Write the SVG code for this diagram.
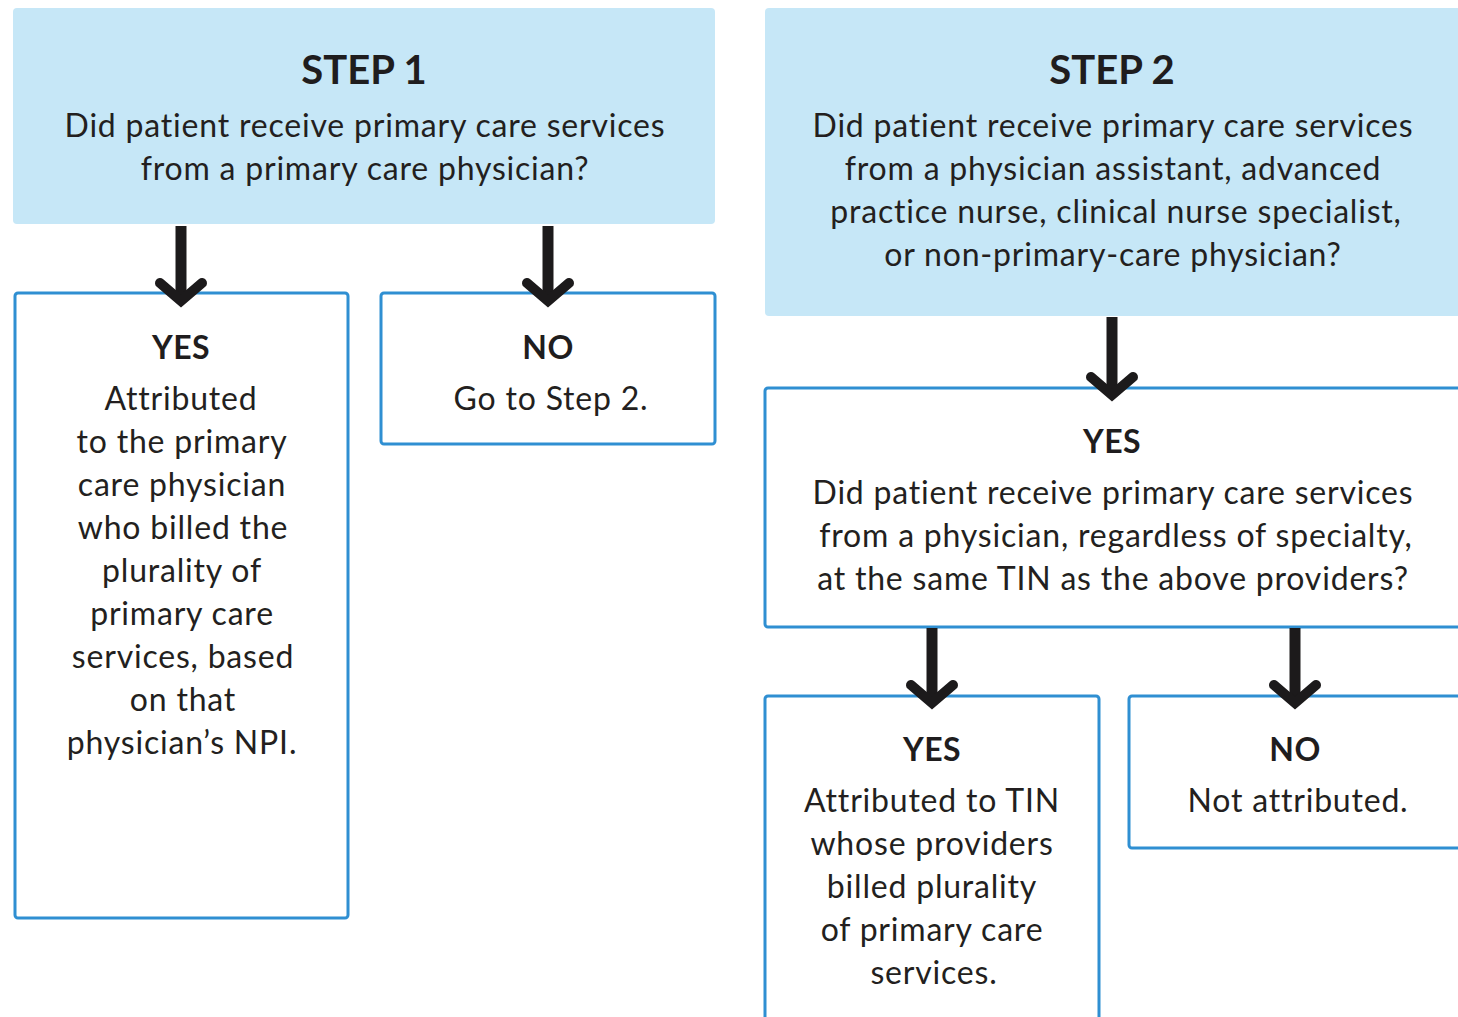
<svg xmlns="http://www.w3.org/2000/svg" width="1458" height="1017" viewBox="0 0 1458 1017">
  <style>
    .step { fill: #c6e7f7; }
    .box { fill: #ffffff; stroke: #2f8fd2; stroke-width: 3; }
    .title { font-family: Lato, "Open Sans", sans-serif; font-weight: 700; fill: #1f1d1e; text-anchor: middle; }
    .h1 { font-size: 40px; }
    .h2 { font-size: 32px; letter-spacing: 0.5px; }
    .body { font-family: Lato, "Open Sans", sans-serif; font-size: 32px; letter-spacing: 0.8px; fill: #231f20; text-anchor: middle; }
    .shaft { stroke: #1c1a1b; stroke-width: 11; fill: none; }
    .head { stroke: #1c1a1b; stroke-width: 10; fill: none; stroke-linejoin: miter; stroke-linecap: round; }
  </style>
  <rect width="1458" height="1017" fill="#ffffff"/>

  <g id="step1">
    <rect class="step" x="13" y="8" width="702" height="216" rx="4"/>
    <text class="title h1" x="364" y="84">STEP 1</text>
    <text class="body" x="365" y="137">Did patient receive primary care services</text>
    <text class="body" x="365" y="180">from a primary care physician?</text>
  </g>

  <g id="step2">
    <rect class="step" x="765" y="8" width="700" height="308" rx="4"/>
    <text class="title h1" x="1112" y="84">STEP 2</text>
    <text class="body" x="1113" y="137">Did patient receive primary care services</text>
    <text class="body" x="1113" y="180">from a physician assistant, advanced</text>
    <text class="body" x="1116" y="223">practice nurse, clinical nurse specialist,</text>
    <text class="body" x="1113" y="266">or non-primary-care physician?</text>
  </g>

  <g id="step1-yes">
    <rect class="box" x="15" y="293" width="333" height="625" rx="3"/>
    <text class="title h2" x="181" y="359">YES</text>
    <text class="body" x="181" y="410">Attributed</text>
    <text class="body" x="182" y="453">to the primary</text>
    <text class="body" x="182" y="496">care physician</text>
    <text class="body" x="183" y="539">who billed the</text>
    <text class="body" x="182" y="582">plurality of</text>
    <text class="body" x="182" y="625">primary care</text>
    <text class="body" x="183" y="668">services, based</text>
    <text class="body" x="183" y="711">on that</text>
    <text class="body" x="182" y="754">physician’s NPI.</text>
  </g>

  <g id="step1-no">
    <rect class="box" x="381" y="293" width="334" height="151" rx="3"/>
    <text class="title h2" x="548" y="359">NO</text>
    <text class="body" x="551" y="410">Go to Step 2.</text>
  </g>

  <g id="step2-yes">
    <rect class="box" x="765" y="388" width="700" height="239" rx="3"/>
    <text class="title h2" x="1112" y="453">YES</text>
    <text class="body" x="1113" y="504">Did patient receive primary care services</text>
    <text class="body" x="1116" y="547">from a physician, regardless of specialty,</text>
    <text class="body" x="1113" y="590">at the same TIN as the above providers?</text>
  </g>

  <g id="tin-yes">
    <rect class="box" x="765" y="696" width="334" height="330" rx="3"/>
    <text class="title h2" x="932" y="761">YES</text>
    <text class="body" x="932" y="812">Attributed to TIN</text>
    <text class="body" x="932" y="855">whose providers</text>
    <text class="body" x="932" y="898">billed plurality</text>
    <text class="body" x="932" y="941">of primary care</text>
    <text class="body" x="934" y="984">services.</text>
  </g>

  <g id="tin-no">
    <rect class="box" x="1129" y="696" width="336" height="152" rx="3"/>
    <text class="title h2" x="1295" y="761">NO</text>
    <text class="body" x="1298" y="812">Not attributed.</text>
  </g>

  <g id="connectors">
    <line class="shaft" x1="181" y1="226" x2="181" y2="298"/>
    <polyline class="head" points="160,283 181,301 202,283"/>
    <line class="shaft" x1="548" y1="226" x2="548" y2="298"/>
    <polyline class="head" points="527,283 548,301 569,283"/>
    <line class="shaft" x1="1112" y1="317" x2="1112" y2="392"/>
    <polyline class="head" points="1091,377 1112,395 1133,377"/>
    <line class="shaft" x1="932" y1="628" x2="932" y2="700"/>
    <polyline class="head" points="911,685 932,703 953,685"/>
    <line class="shaft" x1="1295" y1="628" x2="1295" y2="700"/>
    <polyline class="head" points="1274,685 1295,703 1316,685"/>
  </g>
</svg>
